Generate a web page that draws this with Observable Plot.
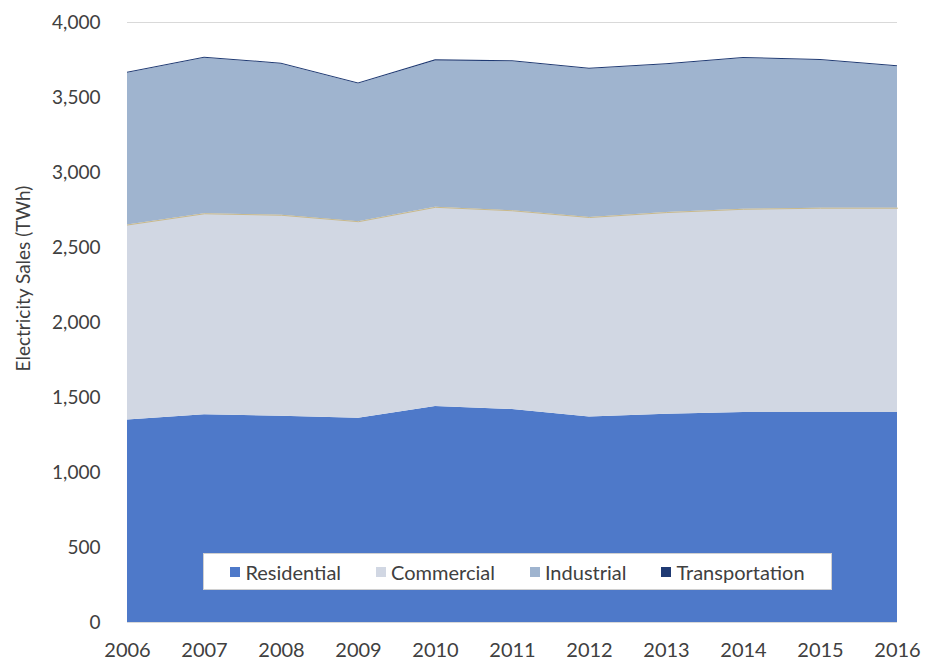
<!DOCTYPE html>
<html>
<head>
<meta charset="utf-8">
<script src="https://cdn.jsdelivr.net/npm/d3@7"></script>
<script src="https://cdn.jsdelivr.net/npm/@observablehq/plot@0.6"></script>
<style>
  html, body { margin: 0; padding: 0; background: #fff; }
  #wrap { position: relative; width: 925px; height: 664px; font-family: Lato, "Open Sans", sans-serif; }
  #legend {
    position: absolute; left: 203px; top: 553px; width: 629px; height: 37px;
    background: #fff; border: 1px solid #d0d0d0; box-sizing: border-box;
    display: flex; align-items: center; justify-content: center; gap: 35px;
    font-size: 20px; color: #404040;
  }
  #legend .item { display: flex; align-items: center; gap: 5px; }
  #legend .sw { width: 10px; height: 10px; display: inline-block; }
</style>
</head>
<body>
<div id="wrap"></div>
<script>
const years = [2006, 2007, 2008, 2009, 2010, 2011, 2012, 2013, 2014, 2015, 2016];
const residential = [1350, 1385, 1375, 1362, 1440, 1420, 1370, 1388, 1400, 1400, 1400];
const commercial  = [1300, 1340, 1340, 1310, 1328, 1325, 1330, 1345, 1355, 1362, 1362];
const industrial  = [1012, 1037, 1007, 918, 976, 993, 988, 985, 1005, 985, 943];
const transportation = [7, 7, 7, 7, 7, 7, 7, 7, 7, 7, 7];
const sectors = ["Residential", "Commercial", "Industrial", "Transportation"];
const colors = ["#4e79c9", "#d1d7e3", "#9fb4cf", "#1f3a73"];
const yTicks = [0, 500, 1000, 1500, 2000, 2500, 3000, 3500, 4000];

const series = [residential, commercial, industrial, transportation];
const rows = [];
sectors.forEach((s, i) => years.forEach((y, j) => rows.push({year: y, sector: s, value: series[i][j]})));
const comTop = years.map((y, j) => ({year: y, value: residential[j] + commercial[j]}));

const chart = Plot.plot({
  width: 925,
  height: 664,
  marginLeft: 127,
  marginRight: 28,
  marginTop: 22,
  marginBottom: 42,
  style: {fontFamily: "Lato, 'Open Sans', sans-serif", fontSize: "19px", color: "#404040", background: "#fff"},
  x: {domain: [2006, 2016], ticks: years, tickFormat: d => String(d), label: null},
  y: {domain: [0, 4000], ticks: yTicks, tickFormat: d3.format(","), label: null},
  color: {domain: sectors, range: colors},
  marks: [
    Plot.gridY(yTicks, {stroke: "#d9d9d9", strokeOpacity: 1}),
    Plot.areaY(rows, Plot.stackY({x: "year", y: "value", fill: "sector", order: sectors})),
    Plot.lineY(comTop, {x: "year", y: "value", stroke: "#c9b98a", strokeWidth: 1}),
    Plot.ruleY([0], {stroke: "#d9d9d9"}),
    Plot.axisX({ticks: years, tickFormat: d => String(d), tickSize: 0, tickPadding: 20, fontSize: 20, label: null}),
    Plot.axisY({ticks: yTicks, tickFormat: d3.format(","), tickSize: 0, tickPadding: 27, fontSize: 19, label: null}),
    Plot.text(["Electricity Sales (TWh)"], {frameAnchor: "left", textAnchor: "middle", dx: -104, dy: -44, rotate: -90, fontSize: 19, fill: "#404040"})
  ]
});
const wrap = document.getElementById("wrap");
wrap.appendChild(chart);

const legend = document.createElement("div");
legend.id = "legend";
sectors.forEach((s, i) => {
  const it = document.createElement("span");
  it.className = "item";
  it.innerHTML = `<span class="sw" style="background:${colors[i]}"></span><span>${s}</span>`;
  legend.appendChild(it);
});
wrap.appendChild(legend);
</script>
</body>
</html>
